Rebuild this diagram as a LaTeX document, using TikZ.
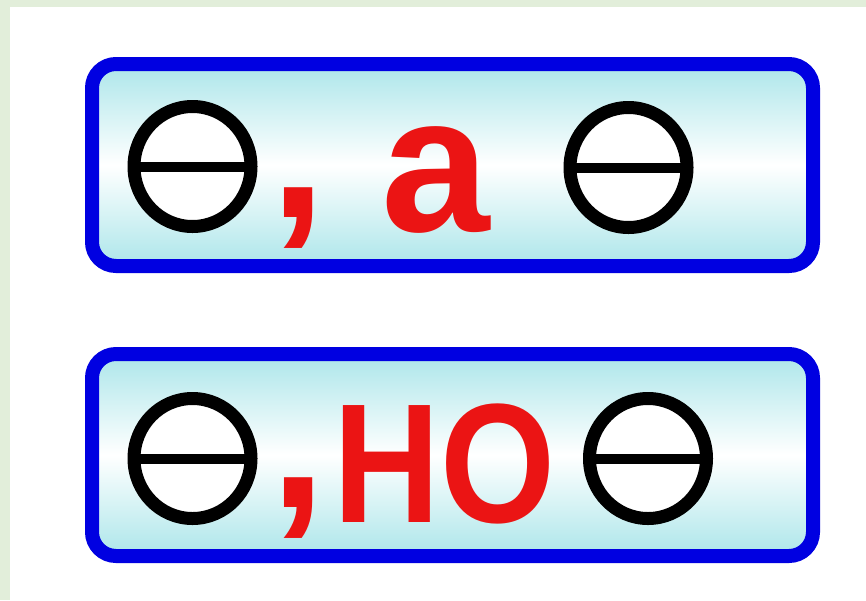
\documentclass[tikz,border=0pt]{standalone}
\usepackage{fontspec}
\setmainfont{Liberation Sans}
\usetikzlibrary{shapes.geometric}
\definecolor{bggreen}{RGB}{226,238,218}
\definecolor{pblue}{RGB}{0,0,225}
\definecolor{cyanA}{RGB}{172,230,234}
\definecolor{txtred}{RGB}{235,20,20}
\begin{document}
\begin{tikzpicture}[x=1pt,y=-1pt,
  panel/.style={draw=pblue, line width=14pt, rounded corners=24pt,
    top color=cyanA, bottom color=cyanA, middle color=white,
    minimum width=721pt, minimum height=202pt, inner sep=0pt},
  thetasym/.style={ellipse, draw=black, line width=13pt, fill=white,
    minimum width=117pt, minimum height=120pt, inner sep=0pt},
  bar/.style={draw=black, line width=10pt},
  redtxt/.style={text=txtred, inner sep=0pt, outer sep=0pt, anchor=base}]
\useasboundingbox (0,0) rectangle (866,600);
\fill[bggreen] (0,0) rectangle (866,600);
\fill[white] (10,7) rectangle (866,600);
% panels
\node[panel] (p1) at (452.5,165) {};
\node[panel] (p2) at (452.5,455) {};
% row 1
\node[thetasym] (t1) at (192.5,166.5) {};
\draw[bar] ([xshift=1pt]t1.west) -- ([xshift=-1pt]t1.east);
\node[redtxt, font=\fontsize{200}{200}\selectfont\bfseries] (k1) at (298,217) {,};
\node[redtxt, font=\fontsize{195}{195}\selectfont\bfseries] (w1) at (435.5,231) {\scalebox{1.0}[1]{а}};
\node[thetasym] (t2) at (628.5,167.5) {};
\draw[bar] ([xshift=1pt]t2.west) -- ([xshift=-1pt]t2.east);
% row 2
\node[thetasym] (t3) at (192.5,458.5) {};
\draw[bar] ([xshift=1pt]t3.west) -- ([xshift=-1pt]t3.east);
\node[redtxt, font=\fontsize{200}{200}\selectfont\bfseries] (k2) at (298,507) {,};
\node[redtxt, font=\fontsize{170}{170}\selectfont\bfseries] (w2) at (444.5,522) {\scalebox{0.87}[1]{НО}};
\node[thetasym] (t4) at (648,458.5) {};
\draw[bar] ([xshift=1pt]t4.west) -- ([xshift=-1pt]t4.east);
\end{tikzpicture}
\end{document}
